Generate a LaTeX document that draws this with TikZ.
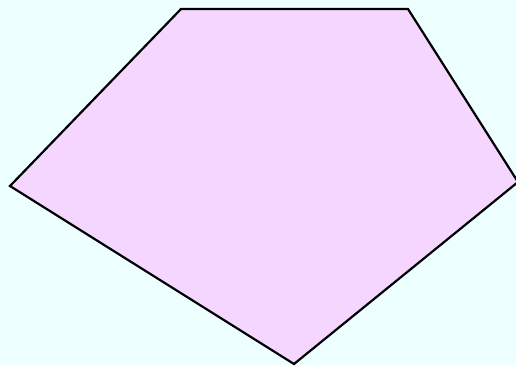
\documentclass[tikz,border=0pt]{standalone}
\begin{document}
\begin{tikzpicture}[x=1pt,y=-1pt]
\definecolor{bg}{RGB}{238,255,255}
\definecolor{pfill}{RGB}{244,214,255}
\tikzset{poly/.style={draw=black,fill=pfill,line width=2.2pt,line join=miter}}
\fill[bg] (0,0) rectangle (516,365);
\useasboundingbox (0,0) rectangle (516,365);
\begin{scope}
\clip (0,0) rectangle (516,365);
\coordinate (A) at (181,9);
\coordinate (B) at (408,9);
\coordinate (C) at (518,182);
\coordinate (D) at (294,364);
\coordinate (E) at (10,186);
\draw[poly] (A) -- (B) -- (C) -- (D) -- (E) -- cycle;
\end{scope}
\end{tikzpicture}
\end{document}
